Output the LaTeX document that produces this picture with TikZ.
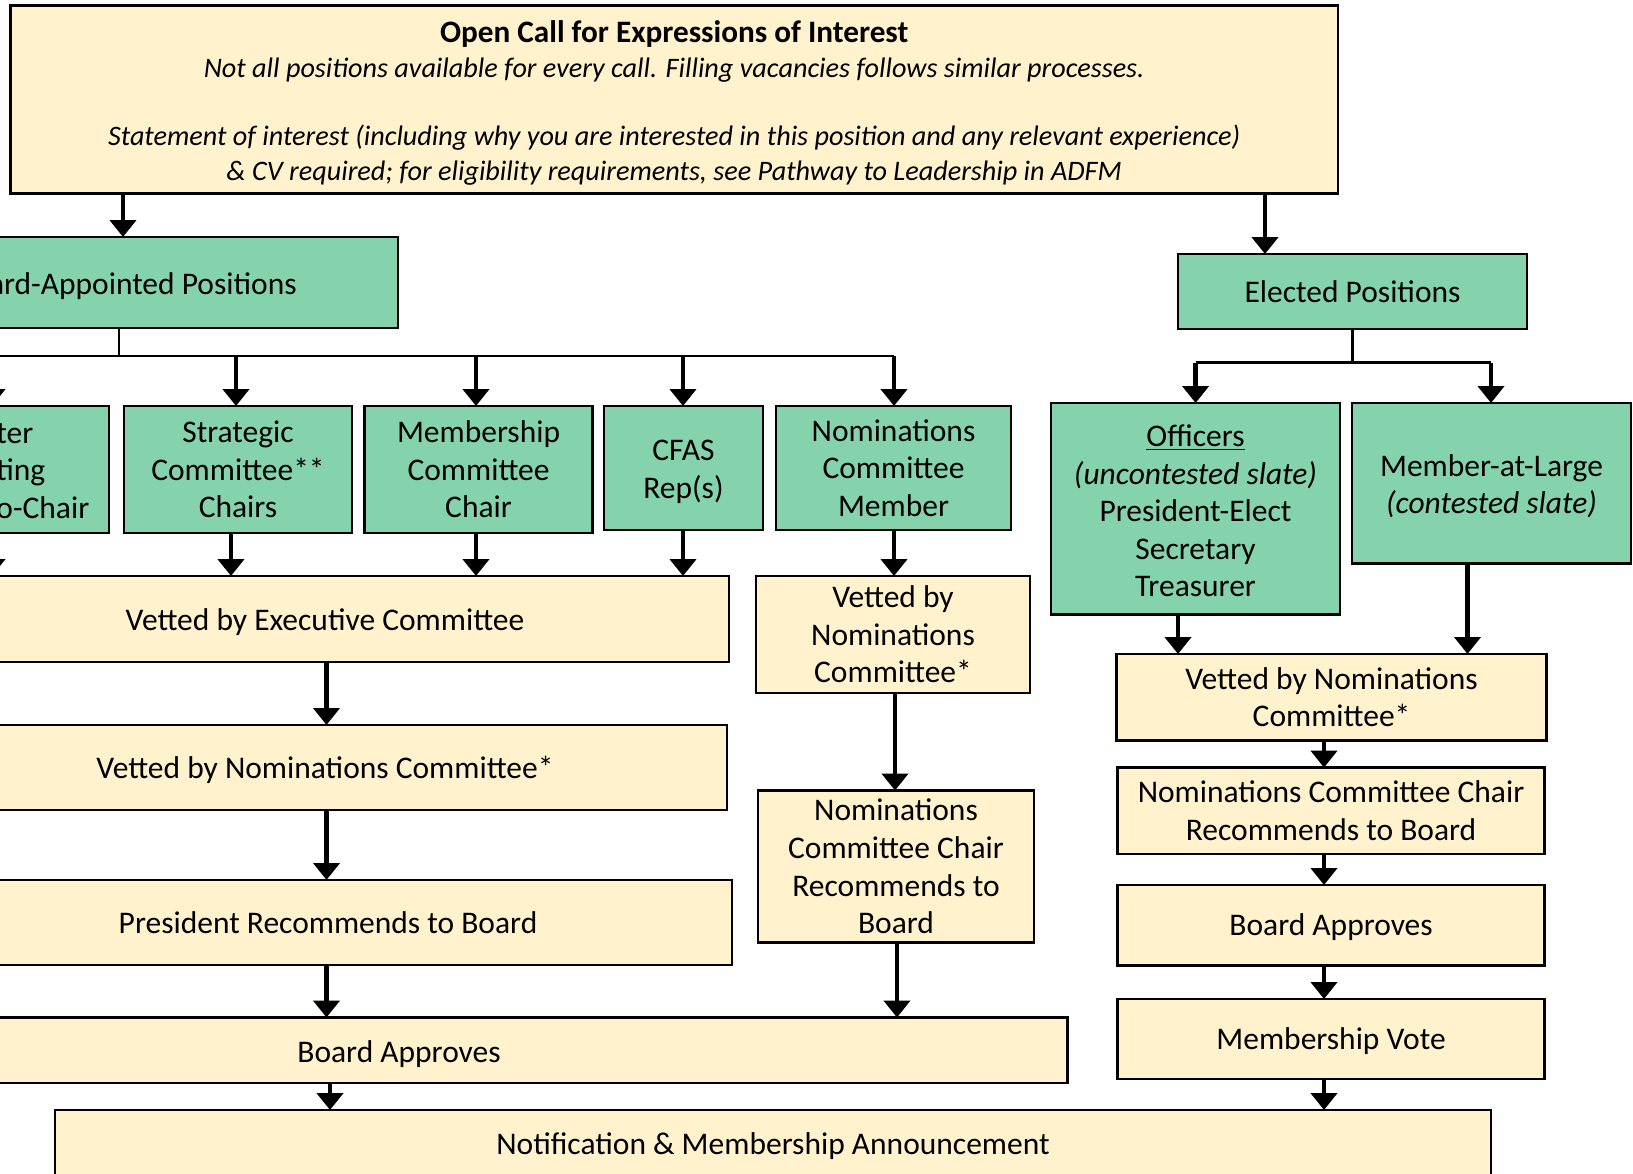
\documentclass[tikz,border=0pt]{standalone}
\usepackage{fontspec}
\setmainfont{Carlito}
\usetikzlibrary{arrows.meta}
\definecolor{gfill}{HTML}{84D3AC}
\definecolor{yfill}{HTML}{FFF2CC}
\tikzset{
 base/.style={draw=black, line width=1.3pt, inner sep=0pt, outer sep=0pt, align=center, font=\fontsize{15.75}{18.8}\selectfont},
 gbox/.style={base, fill=gfill},
 ybox/.style={base, fill=yfill},
 arr/.style={line width=2.3pt, -{Triangle[width=13pt,length=8.5pt]}},
 tree/.style={line width=1pt},
 treeb/.style={line width=1.3pt},
}
\newcommand\dn[1]{\rule{0pt}{#1}}
\newcommand\mybox[7]{\node[#2, minimum width={((#5)-(#3))*0.5pt}, minimum height={((#6)-(#4))*0.5pt}] (#1) at ({((#3)+(#5))/2},{((#4)+(#6))/2}) {#7};}
\begin{document}
\begin{tikzpicture}[x=0.5pt,y=-0.5pt]
\useasboundingbox (0,0) rectangle (1633,1173);
\fill[white] (0,0) rectangle (1633,1173);
\clip (0,0) rectangle (1633,1173);
% top
\node[ybox, minimum width={(1338-10.4)*0.5pt}, minimum height={(193.7-5.2)*0.5pt}, font=\fontsize{14.1}{17.2}\selectfont] (top) at ({(10.4+1338)/2},{(5.2+193.7)/2}) {{\fontsize{15.6}{17.2}\selectfont\bfseries\dn{14.4pt}Open Call for Expressions of Interest}\\
{\itshape Not all positions available for every call. Filling vacancies follows similar processes.}\\[17.2pt]
{\itshape Statement of interest (including why you are interested in this position and any relevant experience)}\\
{\itshape \& CV required; for eligibility requirements, see Pathway to Leadership in ADFM}};
% green
\mybox{bap}{gbox}{-146}{237}{398}{328}{\dn{15pt}Board-Appointed Positions}
\mybox{elec}{gbox}{1178}{254}{1527}{329}{Elected Positions}
\mybox{wm}{gbox}{-111}{406}{109}{533}{}
\node[align=left, anchor=west, inner sep=0pt, font=\fontsize{15.75}{18.8}\selectfont] (wmtext) at (-4,471) {ter\\ting\\o-Chair};
\mybox{strat}{gbox}{124}{406}{352}{533}{Strategic\\Committee**\\Chairs}
\mybox{memb}{gbox}{364.5}{406}{592.6}{533}{Membership\\Committee\\Chair}
\mybox{cfas}{gbox}{604}{406}{763}{530}{\dn{14pt}CFAS\\Rep(s)}
\mybox{ncm}{gbox}{776}{406}{1011}{530}{Nominations\\Committee\\Member}
\mybox{off}{gbox}{1051}{403}{1340}{614.5}{\dn{13pt}\underline{Officers}\\\textit{(uncontested slate)}\\President-Elect\\Secretary\\Treasurer}
\mybox{mal}{gbox}{1352}{403}{1631}{563.5}{\dn{14pt}Member-at-Large\\\textit{(contested slate)}}
% yellow
\mybox{exec}{ybox}{-79}{576}{729}{662}{\dn{14pt}Vetted by Executive Committee}
\mybox{nomc}{ybox}{-77}{725}{727}{810}{\dn{14pt}Vetted by Nominations Committee*}
\mybox{pres}{ybox}{-76}{880}{732}{965}{President Recommends to Board}
\mybox{board}{ybox}{-269.5}{1017.5}{1067.5}{1083}{\dn{15pt}Board Approves}
\mybox{notif}{ybox}{55}{1110}{1491}{1177}{\dn{14pt}Notification \& Membership Announcement}
\mybox{vetmid}{ybox}{756}{576}{1030}{693}{Vetted by\\Nominations\\Committee*}
\mybox{nccmid}{ybox}{758}{790.5}{1034}{942.6}{Nominations\\Committee Chair\\Recommends to\\Board}
\mybox{vetr}{ybox}{1116.5}{654}{1546.6}{740.5}{Vetted by Nominations\\Committee*}
\mybox{nccr}{ybox}{1117.5}{767.6}{1544.6}{854}{Nominations Committee Chair\\Recommends to Board}
\mybox{boardr}{ybox}{1117.5}{885}{1544.6}{965.5}{\dn{13pt}Board Approves}
\mybox{vote}{ybox}{1117.5}{999}{1544.6}{1079}{\dn{13pt}Membership Vote}
% column coordinates
\coordinate (c1) at (123,0);
\coordinate (c2) at (119,0);
\coordinate (ce) at (1265,0);
\coordinate (hl) at (0,356);
\coordinate (hr) at (0,362.5);
\coordinate (cw) at (-8,0);
\coordinate (cs) at (236,0);
\coordinate (csb) at (231,0);
\coordinate (cm) at (476,0);
\coordinate (cc) at (683,0);
\coordinate (cn) at (894,0);
\coordinate (cn2) at (895,0);
\coordinate (cn3) at (897,0);
\coordinate (cl) at (326.5,0);
\coordinate (cl2) at (330,0);
\coordinate (co) at (1195.6,0);
\coordinate (cmal) at (1491,0);
\coordinate (co2) at (1178,0);
\coordinate (cmal2) at (1467.5,0);
\coordinate (cr) at (1324,0);
% connectors
\draw[arr] (top.south -| c1) -- (bap.north -| c1);
\draw[arr] (top.south -| ce) -- (elec.north -| ce);
\draw[tree] (bap.south -| c2) -- (hl -| c2);
\draw[tree] (hl -| cw) -- (hl -| cn);
\draw[arr] (hl -| cw) -- (wm.north -| cw);
\draw[arr] (hl -| cs) -- (strat.north -| cs);
\draw[arr] (hl -| cm) -- (memb.north -| cm);
\draw[arr] (hl -| cc) -- (cfas.north -| cc);
\draw[arr] (hl -| cn) -- (ncm.north -| cn);
\draw[arr] (wm.south -| cw) -- (exec.north -| cw);
\draw[arr] (strat.south -| csb) -- (exec.north -| csb);
\draw[arr] (memb.south -| cm) -- (exec.north -| cm);
\draw[arr] (cfas.south -| cc) -- (exec.north -| cc);
\draw[arr] (ncm.south -| cn) -- (vetmid.north -| cn);
\draw[arr] (vetmid.south -| cn2) -- (nccmid.north -| cn2);
\draw[arr] (nccmid.south -| cn3) -- (board.north -| cn3);
\draw[arr] (exec.south -| cl) -- (nomc.north -| cl);
\draw[arr] (nomc.south -| cl) -- (pres.north -| cl);
\draw[arr] (pres.south -| cl) -- (board.north -| cl);
\draw[arr] (board.south -| cl2) -- (notif.north -| cl2);
\draw[treeb] (elec.south) -- (elec.south |- hr);
\draw[treeb] (hr -| co) -- (hr -| cmal);
\draw[arr] (hr -| co) -- (off.north -| co);
\draw[arr] (hr -| cmal) -- (mal.north -| cmal);
\draw[arr] (off.south -| co2) -- (vetr.north -| co2);
\draw[arr] (mal.south -| cmal2) -- (vetr.north -| cmal2);
\draw[arr] (vetr.south -| cr) -- (nccr.north -| cr);
\draw[arr] (nccr.south -| cr) -- (boardr.north -| cr);
\draw[arr] (boardr.south -| cr) -- (vote.north -| cr);
\draw[arr] (vote.south -| cr) -- (notif.north -| cr);
\end{tikzpicture}
\end{document}
